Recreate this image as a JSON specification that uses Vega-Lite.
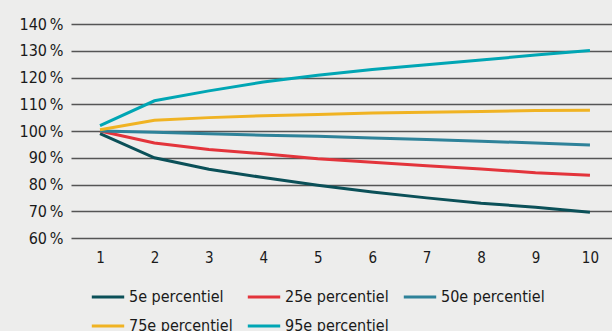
{
  "$schema": "https://vega.github.io/schema/vega-lite/v6.json",
  "width": 541,
  "height": 214,
  "autosize": "none",
  "padding": {"left": 71, "top": 24, "right": 0, "bottom": 93},
  "background": "#ededec",
  "config": {
    "view": {"stroke": null},
    "font": "DejaVu Sans Condensed"
  },
  "data": {
    "values": [
      {"jaar": 1, "reeks": "5e percentiel", "waarde": 99},
      {"jaar": 2, "reeks": "5e percentiel", "waarde": 90},
      {"jaar": 3, "reeks": "5e percentiel", "waarde": 85.7},
      {"jaar": 4, "reeks": "5e percentiel", "waarde": 82.6},
      {"jaar": 5, "reeks": "5e percentiel", "waarde": 79.7},
      {"jaar": 6, "reeks": "5e percentiel", "waarde": 77.2},
      {"jaar": 7, "reeks": "5e percentiel", "waarde": 75},
      {"jaar": 8, "reeks": "5e percentiel", "waarde": 73},
      {"jaar": 9, "reeks": "5e percentiel", "waarde": 71.5},
      {"jaar": 10, "reeks": "5e percentiel", "waarde": 69.6},
      {"jaar": 1, "reeks": "25e percentiel", "waarde": 100},
      {"jaar": 2, "reeks": "25e percentiel", "waarde": 95.5},
      {"jaar": 3, "reeks": "25e percentiel", "waarde": 93.1},
      {"jaar": 4, "reeks": "25e percentiel", "waarde": 91.5},
      {"jaar": 5, "reeks": "25e percentiel", "waarde": 89.6},
      {"jaar": 6, "reeks": "25e percentiel", "waarde": 88.3},
      {"jaar": 7, "reeks": "25e percentiel", "waarde": 87},
      {"jaar": 8, "reeks": "25e percentiel", "waarde": 85.8},
      {"jaar": 9, "reeks": "25e percentiel", "waarde": 84.4},
      {"jaar": 10, "reeks": "25e percentiel", "waarde": 83.5},
      {"jaar": 1, "reeks": "50e percentiel", "waarde": 100},
      {"jaar": 2, "reeks": "50e percentiel", "waarde": 99.5},
      {"jaar": 3, "reeks": "50e percentiel", "waarde": 99},
      {"jaar": 4, "reeks": "50e percentiel", "waarde": 98.4},
      {"jaar": 5, "reeks": "50e percentiel", "waarde": 98},
      {"jaar": 6, "reeks": "50e percentiel", "waarde": 97.4},
      {"jaar": 7, "reeks": "50e percentiel", "waarde": 96.8},
      {"jaar": 8, "reeks": "50e percentiel", "waarde": 96.2},
      {"jaar": 9, "reeks": "50e percentiel", "waarde": 95.5},
      {"jaar": 10, "reeks": "50e percentiel", "waarde": 94.8},
      {"jaar": 1, "reeks": "75e percentiel", "waarde": 100.5},
      {"jaar": 2, "reeks": "75e percentiel", "waarde": 104},
      {"jaar": 3, "reeks": "75e percentiel", "waarde": 105},
      {"jaar": 4, "reeks": "75e percentiel", "waarde": 105.7},
      {"jaar": 5, "reeks": "75e percentiel", "waarde": 106.2},
      {"jaar": 6, "reeks": "75e percentiel", "waarde": 106.7},
      {"jaar": 7, "reeks": "75e percentiel", "waarde": 107},
      {"jaar": 8, "reeks": "75e percentiel", "waarde": 107.3},
      {"jaar": 9, "reeks": "75e percentiel", "waarde": 107.7},
      {"jaar": 10, "reeks": "75e percentiel", "waarde": 107.8},
      {"jaar": 1, "reeks": "95e percentiel", "waarde": 102},
      {"jaar": 2, "reeks": "95e percentiel", "waarde": 111.3},
      {"jaar": 3, "reeks": "95e percentiel", "waarde": 115},
      {"jaar": 4, "reeks": "95e percentiel", "waarde": 118.3},
      {"jaar": 5, "reeks": "95e percentiel", "waarde": 120.8},
      {"jaar": 6, "reeks": "95e percentiel", "waarde": 123},
      {"jaar": 7, "reeks": "95e percentiel", "waarde": 124.8},
      {"jaar": 8, "reeks": "95e percentiel", "waarde": 126.5},
      {"jaar": 9, "reeks": "95e percentiel", "waarde": 128.4},
      {"jaar": 10, "reeks": "95e percentiel", "waarde": 130.1}
    ]
  },
  "mark": {"type": "line", "strokeWidth": 3},
  "encoding": {
    "x": {
      "field": "jaar",
      "type": "quantitative",
      "scale": {"domain": [0.467, 10.405], "nice": false, "zero": false},
      "axis": {
        "title": null,
        "values": [1, 2, 3, 4, 5, 6, 7, 8, 9, 10],
        "grid": false,
        "domain": false,
        "ticks": false,
        "labelFontSize": 15,
        "labelColor": "#1a1a1a",
        "labelPadding": 12
      }
    },
    "y": {
      "field": "waarde",
      "type": "quantitative",
      "scale": {"domain": [60, 140], "nice": false, "zero": false},
      "axis": {
        "title": null,
        "values": [60, 70, 80, 90, 100, 110, 120, 130, 140],
        "labelExpr": "datum.value + '\u2009%'",
        "grid": true,
        "gridColor": "#555555",
        "gridWidth": 1.5,
        "domain": false,
        "ticks": false,
        "labelFontSize": 16,
        "labelColor": "#1a1a1a",
        "labelPadding": 8
      }
    },
    "color": {
      "field": "reeks",
      "type": "nominal",
      "sort": ["5e percentiel", "25e percentiel", "50e percentiel", "75e percentiel", "95e percentiel"],
      "scale": {
        "domain": ["5e percentiel", "25e percentiel", "50e percentiel", "75e percentiel", "95e percentiel"],
        "range": ["#0b5058", "#e3343b", "#2e8299", "#f0b323", "#00a6b4"]
      },
      "legend": {
        "title": null,
        "orient": "none",
        "legendX": 19,
        "legendY": 255,
        "columns": 3,
        "direction": "horizontal",
        "symbolType": "stroke",
        "symbolSize": 1050,
        "symbolStrokeWidth": 3,
        "labelFontSize": 16,
        "labelColor": "#1a1a1a",
        "labelOffset": 3,
        "columnPadding": 8,
        "rowPadding": 3
      }
    }
  }
}
